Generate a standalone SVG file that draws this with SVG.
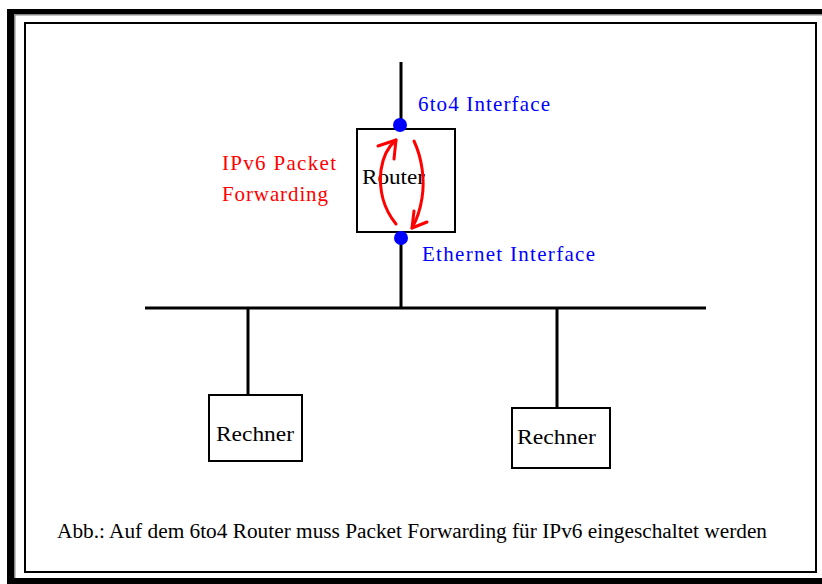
<svg xmlns="http://www.w3.org/2000/svg" width="822" height="584" viewBox="0 0 822 584">
<style>
  .t { font-family: "Liberation Serif", "Times New Roman", serif; }
  .blk { fill: #000; }
  .blue { fill: #0000ff; }
  .red { fill: #ff0000; }
  .box { fill: #fff; stroke: #000; stroke-width: 2; }
  .wire { stroke: #000; stroke-width: 3; fill: none; }
  .arr { stroke: #ff0000; stroke-width: 3; fill: none; stroke-linecap: round; stroke-linejoin: round; }
</style>
<rect x="0" y="0" width="822" height="584" fill="#fff"/>
<g id="frame">
  <rect x="7" y="9" width="7" height="575" fill="#000"/>
  <rect x="7" y="9" width="815" height="5" fill="#000"/>
  <rect x="7" y="578" width="815" height="6" fill="#000"/>
  <rect x="14" y="14" width="808" height="1.5" fill="#888"/>
  <rect x="14" y="14" width="1.5" height="564" fill="#888"/>
  <rect x="25" y="23" width="791" height="549" fill="none" stroke="#000" stroke-width="2"/>
</g>
<g id="connectors">
  <line class="wire" x1="401" y1="62" x2="401" y2="129"/>
  <line class="wire" x1="401" y1="232" x2="401" y2="308"/>
  <line class="wire" x1="145" y1="308" x2="706" y2="308"/>
  <line class="wire" x1="248" y1="308" x2="248" y2="395"/>
  <line class="wire" x1="557" y1="308" x2="557" y2="408"/>
</g>
<g id="router">
  <rect class="box" x="357" y="129" width="98" height="103"/>
  <text class="t blk" x="362" y="184" font-size="21" textLength="63" lengthAdjust="spacingAndGlyphs">Router</text>
</g>
<g id="forwarding-arrows">
  <path class="arr" d="M396,224 C383,208 379,188 381,170 C383,156 389,146 396,140"/>
  <path class="arr" d="M378,146 L396,140 L394,159"/>
  <path class="arr" d="M414,141 C422,158 425,180 422,198 C420,211 416,221 412,228"/>
  <path class="arr" d="M414,211 L412,228 L427,222"/>
</g>
<g id="if-6to4">
  <circle class="blue" cx="400" cy="125" r="7"/>
  <text class="t blue" x="418" y="111" font-size="21" textLength="132" lengthAdjust="spacing">6to4 Interface</text>
</g>
<g id="if-ethernet">
  <circle class="blue" cx="401" cy="238" r="7"/>
  <text class="t blue" x="422" y="261" font-size="21" textLength="173" lengthAdjust="spacing">Ethernet Interface</text>
</g>
<g id="label-forwarding">
  <text class="t red" x="222" y="170" font-size="21" textLength="114" lengthAdjust="spacing">IPv6 Packet</text>
  <text class="t red" x="222" y="201" font-size="21" textLength="106" lengthAdjust="spacing">Forwarding</text>
</g>
<g id="rechner1">
  <rect class="box" x="209" y="395" width="93" height="66"/>
  <text class="t blk" x="216" y="441" font-size="21" textLength="78" lengthAdjust="spacingAndGlyphs">Rechner</text>
</g>
<g id="rechner2">
  <rect class="box" x="512" y="408" width="98" height="60"/>
  <text class="t blk" x="517" y="444" font-size="21" textLength="79" lengthAdjust="spacingAndGlyphs">Rechner</text>
</g>
<g id="caption">
  <text class="t blk" x="57" y="538" font-size="20" textLength="710" lengthAdjust="spacingAndGlyphs">Abb.: Auf dem 6to4 Router muss Packet Forwarding für IPv6 eingeschaltet werden</text>
</g>
</svg>
